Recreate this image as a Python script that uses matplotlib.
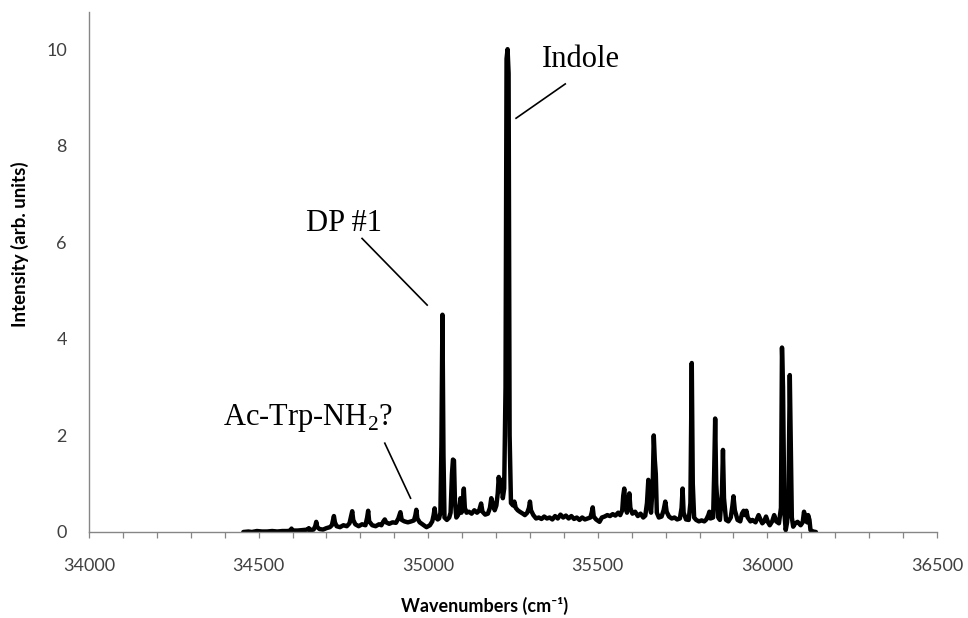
import matplotlib
matplotlib.use('Agg')
import matplotlib.pyplot as plt
from matplotlib.ticker import MultipleLocator

plt.rcParams['mathtext.fontset'] = 'custom'
plt.rcParams['mathtext.rm'] = 'Liberation Serif'

# spectrum (wavenumber in cm^-1, intensity in arb. units)
wavenumber = [
    34455, 34470, 34480, 34495, 34510, 34525, 34540, 34555, 34570, 34585,
    34594, 34597, 34600, 34615, 34630, 34645, 34648, 34652, 34662, 34667,
    34670, 34673, 34680, 34690, 34700, 34710, 34716, 34720, 34722, 34725,
    34730, 34740, 34750, 34760, 34768, 34772, 34776, 34779, 34785, 34795,
    34805, 34815, 34820, 34823, 34826, 34835, 34845, 34855, 34862, 34868,
    34872, 34876, 34885, 34895, 34905, 34912, 34918, 34922, 34930, 34940,
    34950, 34958, 34962, 34965, 34968, 34975, 34985, 34995, 35005, 35012,
    35016, 35019, 35022, 35028, 35032, 35036, 35039, 35042, 35045, 35048,
    35055, 35062, 35066, 35070, 35073, 35076, 35079, 35083, 35088, 35092,
    35095, 35098, 35102, 35105, 35108, 35113, 35120, 35128, 35136, 35144,
    35150, 35156, 35160, 35168, 35176, 35182, 35186, 35190, 35196, 35201,
    35205, 35208, 35212, 35216, 35220, 35224, 35228, 35231, 35234, 35237,
    35240, 35244, 35250, 35254, 35258, 35264, 35270, 35279, 35285, 35292,
    35297, 35300, 35303, 35310, 35318, 35326, 35334, 35342, 35350, 35358,
    35366, 35374, 35382, 35390, 35398, 35406, 35414, 35422, 35430, 35438,
    35446, 35454, 35462, 35470, 35478, 35482, 35485, 35488, 35495, 35505,
    35512, 35520, 35528, 35536, 35544, 35552, 35560, 35566, 35572, 35575,
    35578, 35581, 35586, 35590, 35593, 35596, 35602, 35610, 35618, 35626,
    35634, 35640, 35645, 35649, 35652, 35657, 35662, 35665, 35668, 35671,
    35674, 35680, 35688, 35694, 35699, 35703, 35710, 35718, 35726, 35734,
    35742, 35747, 35750, 35753, 35760, 35768, 35773, 35777, 35780, 35784,
    35790, 35798, 35806, 35814, 35820, 35826, 35829, 35832, 35840, 35843,
    35846, 35849, 35855, 35860, 35866, 35869, 35872, 35878, 35885, 35892,
    35897, 35900, 35904, 35912, 35920, 35925, 35930, 35934, 35938, 35942,
    35950, 35956, 35965, 35974, 35980, 35985, 35990, 35996, 36002, 36007,
    36014, 36020, 36026, 36034, 36040, 36043, 36046, 36050, 36054, 36058,
    36062, 36066, 36069, 36072, 36076, 36082, 36089, 36098, 36104, 36108,
    36112, 36117, 36120, 36124, 36127, 36135, 36143,
]
intensity = [
    0.00, 0.01, 0.00, 0.02, 0.01, 0.01, 0.02, 0.01, 0.02, 0.02,
    0.03, 0.07, 0.03, 0.03, 0.04, 0.05, 0.08, 0.04, 0.05, 0.12,
    0.21, 0.10, 0.06, 0.05, 0.08, 0.10, 0.14, 0.26, 0.33, 0.20,
    0.12, 0.10, 0.14, 0.12, 0.18, 0.30, 0.43, 0.25, 0.16, 0.12,
    0.16, 0.14, 0.30, 0.44, 0.22, 0.14, 0.12, 0.16, 0.14, 0.22,
    0.26, 0.20, 0.17, 0.20, 0.19, 0.28, 0.41, 0.25, 0.22, 0.20,
    0.22, 0.24, 0.34, 0.46, 0.28, 0.20, 0.15, 0.10, 0.14, 0.22,
    0.35, 0.49, 0.30, 0.26, 0.28, 0.40, 1.80, 4.50, 1.60, 0.30,
    0.25, 0.30, 0.40, 1.20, 1.50, 1.48, 0.60, 0.30, 0.35, 0.50,
    0.70, 0.40, 0.60, 0.90, 0.50, 0.40, 0.42, 0.38, 0.45, 0.40,
    0.44, 0.59, 0.42, 0.36, 0.38, 0.50, 0.70, 0.60, 0.45, 0.55,
    0.80, 1.14, 0.85, 1.08, 0.70, 0.90, 3.00, 9.80, 10.00, 9.50,
    2.00, 0.60, 0.55, 0.63, 0.50, 0.45, 0.42, 0.38, 0.35, 0.40,
    0.50, 0.63, 0.45, 0.35, 0.28, 0.30, 0.27, 0.32, 0.28, 0.30,
    0.26, 0.33, 0.28, 0.36, 0.30, 0.34, 0.28, 0.33, 0.27, 0.30,
    0.25, 0.30, 0.26, 0.28, 0.30, 0.40, 0.51, 0.32, 0.26, 0.21,
    0.30, 0.32, 0.35, 0.33, 0.37, 0.34, 0.40, 0.35, 0.45, 0.75,
    0.90, 0.55, 0.40, 0.60, 0.80, 0.50, 0.38, 0.42, 0.33, 0.38,
    0.30, 0.34, 0.60, 1.08, 0.60, 0.40, 1.00, 2.00, 1.50, 1.20,
    0.40, 0.30, 0.32, 0.45, 0.63, 0.42, 0.32, 0.28, 0.30, 0.26,
    0.28, 0.50, 0.90, 0.40, 0.26, 0.25, 0.60, 3.50, 1.00, 0.30,
    0.25, 0.22, 0.24, 0.22, 0.26, 0.35, 0.42, 0.28, 0.30, 1.20,
    2.35, 1.00, 0.30, 0.25, 0.80, 1.70, 0.70, 0.25, 0.22, 0.30,
    0.55, 0.74, 0.45, 0.25, 0.22, 0.38, 0.44, 0.35, 0.44, 0.30,
    0.22, 0.25, 0.20, 0.35, 0.25, 0.18, 0.22, 0.32, 0.20, 0.14,
    0.22, 0.35, 0.22, 0.18, 0.50, 3.82, 3.00, 0.40, 0.04, 0.20,
    0.60, 3.25, 1.80, 0.30, 0.11, 0.18, 0.21, 0.14, 0.20, 0.42,
    0.25, 0.20, 0.35, 0.25, 0.04, 0.01, 0.00,
]

y_ticks = [0, 2, 4, 6, 8, 10]
x_ticks = [34000, 34500, 35000, 35500, 36000, 36500]

axis_grey = '#868686'
label_grey = '#404040'
sans = ['Lato', 'DejaVu Sans']
serif = ['Liberation Serif', 'DejaVu Serif']

fig = plt.figure(figsize=(9.68, 6.18), dpi=100)
ax = fig.add_axes([89 / 968, 1 - 532 / 618, 848 / 968, 520 / 618])

ax.plot(wavenumber, intensity, color='black', linewidth=3.2,
        solid_joinstyle='round', solid_capstyle='round')

ax.set_xlim(34000, 36500)
ax.set_ylim(0, 10.77)

ax.spines['top'].set_visible(False)
ax.spines['right'].set_visible(False)
for side in ('left', 'bottom'):
    ax.spines[side].set_color(axis_grey)
    ax.spines[side].set_linewidth(1.0)

ax.set_xticks(x_ticks)
ax.xaxis.set_minor_locator(MultipleLocator(100))
ax.set_yticks(y_ticks)
ax.tick_params(axis='x', which='both', direction='out', length=4.5,
               width=0.9, color=axis_grey, labelsize=13,
               labelcolor=label_grey, pad=14)
ax.tick_params(axis='y', which='both', length=0, labelsize=13,
               labelcolor=label_grey, pad=16)
for lab in ax.get_xticklabels() + ax.get_yticklabels():
    lab.set_family(sans)

ax.set_xlabel('Wavenumbers (cm⁻¹)', fontsize=13, fontweight='bold',
              family=sans, color='black')
ax.set_ylabel('Intensity (arb. units)', fontsize=13.5, fontweight='bold',
              family=sans, color='black')
ax.xaxis.set_label_coords(0.466, -0.125)
ax.yaxis.set_label_coords(-0.071, 0.554)

# peak labels with leader lines
ax.text(35449, 9.63, 'Indole', fontsize=22, family=serif,
        ha='center', va='baseline')
ax.plot([35404, 35259], [9.28, 8.57], color='black', linewidth=1.2)

ax.text(34751, 6.23, 'DP #1', fontsize=22, family=serif,
        ha='center', va='baseline')
ax.plot([34805, 34997], [6.08, 4.70], color='black', linewidth=1.2)

ax.text(34395, 2.215, r'Ac-Trp-NH$_{2}$?', fontsize=22, family=serif,
        ha='left', va='baseline')
ax.plot([34872, 34948], [1.84, 0.70], color='black', linewidth=1.2)

fig.savefig('out.png', dpi=100)
